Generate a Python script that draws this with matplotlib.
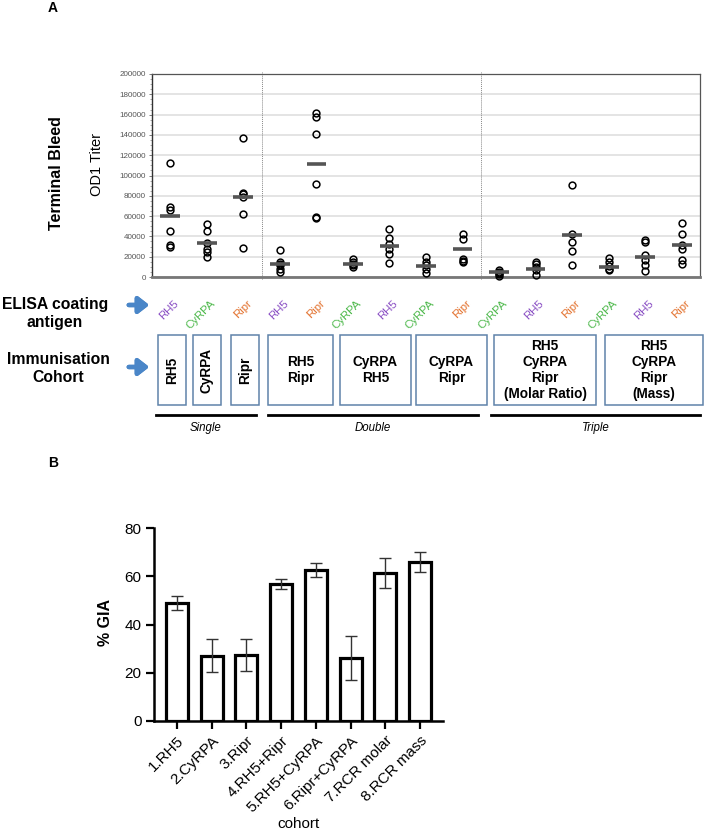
import matplotlib
matplotlib.use("Agg")
import matplotlib.pyplot as plt
import matplotlib.transforms as mtransforms
from matplotlib.patches import Rectangle
from matplotlib.lines import Line2D
import numpy as np

plt.rcParams["font.family"] = ["Liberation Sans", "DejaVu Sans"]

# ---- panel A data: OD1 titer per coating antigen, per cohort ----
antigens = ["RH5", "CyRPA", "Ripr", "RH5", "Ripr", "CyRPA", "RH5", "CyRPA", "Ripr",
            "CyRPA", "RH5", "Ripr", "CyRPA", "RH5", "Ripr"]
titers = [
    [112500, 69000, 66000, 45000, 31500, 29500],
    [52500, 45000, 33500, 28000, 24500, 20000],
    [136500, 83000, 81500, 79000, 62500, 29000],
    [26500, 14800, 12500, 11500, 7500, 5000],
    [162000, 157500, 140500, 91500, 59000, 58000],
    [17500, 15000, 13000, 11500, 9500],
    [47000, 38000, 33000, 28000, 23000, 13500],
    [20000, 15000, 12000, 7500, 4000],
    [42500, 37000, 18000, 16000, 14500],
    [6500, 5000, 4000, 2500, 1000],
    [15000, 12500, 9500, 6500, 2000],
    [90500, 42500, 34500, 25500, 11500],
    [18500, 15000, 11000, 8000, 6500],
    [36500, 34000, 21500, 16500, 11500, 6000],
    [53500, 42000, 31500, 28000, 16500, 13000],
]
centre_lines = [60000, 33500, 79000, 13000, 111800, 13300, 30500, 10500, 27500,
                4800, 8300, 41000, 9900, 19700, 31300]
antigen_colors = {"RH5": "#8a4fc4", "CyRPA": "#4cb84a", "Ripr": "#e3722f"}

cohorts = ["RH5", "CyRPA", "Ripr", "RH5\nRipr", "CyRPA\nRH5", "CyRPA\nRipr",
           "RH5\nCyRPA\nRipr\n(Molar Ratio)", "RH5\nCyRPA\nRipr\n(Mass)"]
groups = ["Single", "Double", "Triple"]

# ---- panel B data: % GIA ----
gia_labels = ["1.RH5", "2.CyRPA", "3.Ripr", "4.RH5+Ripr", "5.RH5+CyRPA",
              "6.Ripr+CyRPA", "7.RCR molar", "8.RCR mass"]
gia_mean = [49.0, 27.0, 27.4, 56.8, 62.6, 26.1, 61.4, 65.9]
gia_err = [2.8, 6.8, 6.7, 2.0, 3.0, 9.2, 6.2, 4.0]

W, H = 708, 832
SANS = ["Liberation Sans", "DejaVu Sans"]


def fx(x):
    return x / W


def fy(y):
    return 1 - y / H


fig = plt.figure(figsize=(W / 100, H / 100), dpi=100)

# ================= panel A =================
axA = fig.add_axes([fx(152), fy(277), 548 / W, 203 / H])
for i, vals in enumerate(titers):
    axA.plot([i] * len(vals), vals, "o", ms=4.9, mfc="none", mec="black",
             mew=1.1, clip_on=False, zorder=3)
    axA.plot([i - 0.27, i + 0.27], [centre_lines[i]] * 2, color="#555555",
             lw=2.6, solid_capstyle="butt", zorder=4)

axA.set_xlim(-0.5, len(titers) - 0.5)
axA.set_ylim(0, 200000)
axA.set_yticks(np.arange(0, 200001, 20000))
axA.set_yticks(np.arange(0, 200001, 5000), minor=True)
axA.yaxis.set_major_formatter(matplotlib.ticker.FuncFormatter(lambda v, _: f"{int(v)}"))
axA.tick_params(axis="y", labelsize=5.8, labelcolor="#555555", length=2.5,
                width=0.6, color="#666666", pad=2)
axA.tick_params(axis="y", which="minor", length=1.5, width=0.5, color="#888888")
axA.set_xticks([])
axA.grid(axis="y", color="#dcdcdc", lw=1.1)
axA.set_axisbelow(True)
for s in ["top", "right"]:
    axA.spines[s].set_color("#555555")
    axA.spines[s].set_linewidth(0.9)
axA.spines["left"].set_color("#333333")
axA.spines["left"].set_linewidth(1.0)
axA.spines["bottom"].set_color("#777777")
axA.spines["bottom"].set_linewidth(2.0)
for xv in [2.5, 8.5]:
    axA.plot([xv, xv], [-1500, 201500], color="#888888", lw=0.7, ls=(0, (1, 1)),
             clip_on=False, zorder=2)

fig.text(fx(97), fy(165), "OD1 Titer", rotation=90, ha="center", va="center",
         fontsize=10.5, family=SANS)
fig.text(fx(57), fy(173), "Terminal Bleed", rotation=90, ha="center", va="center",
         fontsize=11.5, fontweight="bold")
fig.text(fx(53), fy(8), "A", ha="center", va="center", fontsize=10, fontweight="bold")

# coating antigen labels
blend = mtransforms.blended_transform_factory(axA.transData, fig.transFigure)
for i, ag in enumerate(antigens):
    fig.text(i + 0.18, fy(302), ag, transform=blend, rotation=45,
             rotation_mode="anchor", ha="right", va="center", fontsize=8.2,
             color=antigen_colors[ag])

fig.text(fx(55), fy(313), "ELISA coating\nantigen", ha="center", va="center",
         fontsize=11.3, fontweight="bold", linespacing=1.25)
fig.text(fx(58), fy(368), "Immunisation\nCohort", ha="center", va="center",
         fontsize=11.3, fontweight="bold", linespacing=1.25)
for yy in [305, 367]:
    fig.add_artist(plt.annotate("", xy=(fx(152), fy(yy)), xytext=(fx(126), fy(yy)),
                                xycoords="figure fraction",
                                arrowprops=dict(arrowstyle="-|>,head_width=0.35,head_length=0.45",
                                                color="#4a86c8", lw=3.2,
                                                mutation_scale=14)))

# cohort boxes
box_spans = [(158, 186), (193, 221), (231, 259), (268, 333), (340, 411),
             (416, 487), (494, 596), (605, 703)]
box_top, box_bot = 335, 405
for k, (x0, x1) in enumerate(box_spans):
    fig.add_artist(Rectangle((fx(x0), fy(box_bot)), (x1 - x0) / W, (box_bot - box_top) / H,
                             transform=fig.transFigure, fill=False, ec="#5f83aa", lw=1.1))
    rot = 90 if k < 3 else 0
    fig.text(fx((x0 + x1) / 2), fy((box_top + box_bot) / 2), cohorts[k], rotation=rot,
             ha="center", va="center", fontsize=9.8, fontweight="bold",
             linespacing=1.2, multialignment="center")

# grouping lines
group_spans = [(156, 256), (268, 478), (491, 700)]
for g, (x0, x1) in zip(groups, group_spans):
    fig.add_artist(Line2D([fx(x0), fx(x1)], [fy(415), fy(415)], color="black", lw=2.0,
                          transform=fig.transFigure))
    fig.text(fx((x0 + x1) / 2), fy(428), g, ha="center", va="center", fontsize=8.3,
             style="italic")

# ================= panel B =================
axB = fig.add_axes([fx(154), fy(721), 289 / W, 193 / H])
xb = np.arange(len(gia_mean))
axB.bar(xb, gia_mean, width=0.63, color="white", edgecolor="black", lw=2.3, zorder=2)
axB.errorbar(xb, gia_mean, yerr=gia_err, fmt="none", ecolor="#333333", elinewidth=1.0,
             capsize=4.3, capthick=1.0, zorder=3)
axB.set_xlim(-0.66, len(gia_mean) - 1 + 0.66)
axB.set_ylim(0, 80)
axB.set_yticks([0, 20, 40, 60, 80])
axB.set_xticks(xb)
axB.set_xticklabels(gia_labels, rotation=45, ha="right", rotation_mode="anchor")
axB.tick_params(axis="both", labelsize=11, length=6, width=1.6, pad=3)
for s in ["top", "right"]:
    axB.spines[s].set_visible(False)
for s in ["left", "bottom"]:
    axB.spines[s].set_linewidth(1.8)
fig.text(fx(105), fy(623), "% GIA", rotation=90, ha="center", va="center",
         fontsize=11.5, fontweight="bold")
fig.text(fx(298), fy(824), "cohort", ha="center", va="center", fontsize=11)
fig.text(fx(53), fy(463), "B", ha="center", va="center", fontsize=10, fontweight="bold")

fig.savefig("out.png", dpi=100)
